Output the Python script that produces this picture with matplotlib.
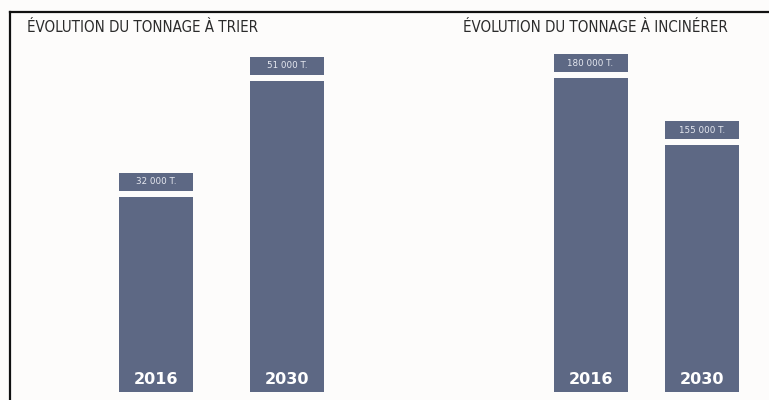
import matplotlib
matplotlib.use('Agg')
import matplotlib.pyplot as plt
from matplotlib.lines import Line2D

# Data
years = ['2016', '2030']
tri_values = [32000, 51000]          # tonnage à trier
incin_values = [180000, 155000]      # tonnage à incinérer
tri_labels = ['32 000 T.', '51 000 T.']
incin_labels = ['180 000 T.', '155 000 T.']
titles = ['ÉVOLUTION DU TONNAGE À TRIER', 'ÉVOLUTION DU TONNAGE À INCINÉRER']

bar_color = '#5d6884'
bg_color = '#fdfcfb'
label_color = '#e6e8f0'

W, H = 769, 400
fig = plt.figure(figsize=(W / 100, H / 100), dpi=100, facecolor=bg_color)


def px_axes(x0, x1, y_top, y_bottom):
    # axes placed by pixel position (y measured from the top)
    return fig.add_axes([x0 / W, 1 - y_bottom / H, (x1 - x0) / W, (y_bottom - y_top) / H])


def draw_panel(ax, values, labels, xlim, ylim, width):
    ax.set_xlim(*xlim)
    ax.set_ylim(*ylim)
    ax.axis('off')
    ax.patch.set_alpha(0)
    pos = range(len(values))
    ax.bar(pos, values, width=width, color=bar_color)

    # small value boxes above each bar
    per_px = (ylim[1] - ylim[0]) / 380
    gap, box_h = 6 * per_px, 18 * per_px
    bottoms = [v + gap for v in values]
    ax.bar(pos, [box_h] * len(values), bottom=bottoms, width=width, color=bar_color)
    for p, b, lab in zip(pos, bottoms, labels):
        ax.text(p, b + box_h / 2, lab, ha='center', va='center',
                fontsize=6.3, color=label_color, fontweight='medium')

    # year inside the bar, at the bottom
    for p, yr in zip(pos, years):
        ax.annotate(yr, xy=(p, ylim[0]), xytext=(0, 13), textcoords='offset pixels',
                    ha='center', va='center', fontsize=11.5, fontweight='bold',
                    color='white', annotation_clip=False)


# left panel: bars centred at 156 / 287 px, 74 px wide
ax1 = px_axes(10, 400, 12, 392)
draw_panel(ax1, tri_values, tri_labels, (-1.115, 1.863), (0, 62300), 74 / 131)

# right panel: bars centred at 590 / 702 px (baseline raised as in the original)
ax2 = px_axes(400, 769, 12, 392)
draw_panel(ax2, incin_values, incin_labels, (-1.709, 1.601), (63000, 204800), 74 / 111.5)

# titles
fig.text(27 / W, 1 - 28 / H, titles[0], ha='left', va='center', fontsize=10.8,
         color='#2b2b2b', fontstretch='condensed')
fig.text(595 / W, 1 - 28 / H, titles[1], ha='center', va='center', fontsize=10.8,
         color='#2b2b2b', fontstretch='condensed')

# frame: left and top edges only
fig.add_artist(Line2D([10 / W, 10 / W], [0, 1 - 12 / H], color='#111111', lw=1.6))
fig.add_artist(Line2D([10 / W, 1], [1 - 12 / H, 1 - 12 / H], color='#111111', lw=1.6))

fig.savefig('out.png', dpi=100, facecolor=bg_color)
